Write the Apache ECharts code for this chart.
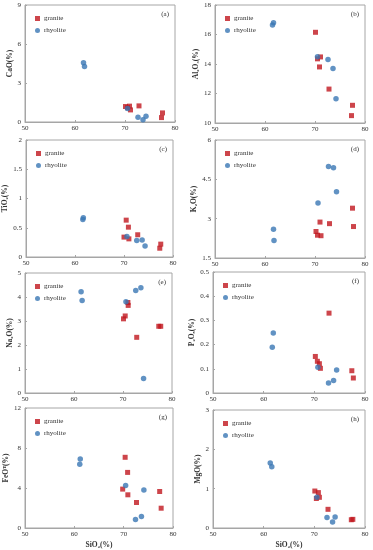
<!DOCTYPE html>
<html><head><meta charset="utf-8">
<script src="https://cdn.jsdelivr.net/npm/echarts@6/dist/echarts.min.js"></script>
<style>html,body{margin:0;padding:0;background:#fff}#c{width:373px;height:550px}</style>
</head><body><div id="c"></div>
<script>
// x ticks (SiO2 %)
const xTicks = [50, 60, 70, 80];
const panelLabels = ['(a)','(b)','(c)','(d)','(e)','(f)','(g)','(h)'];
const yNames = ['CaO(%)','Al₂O₃(%)','TiO₂(%)','K₂O(%)','Na₂O(%)','P₂O₅(%)','FeOᵀ(%)','MgO(%)'];
const yMin = [0, 10, 0, 1.5, 0, 0, 0, 0];
const yMax = [9, 18, 2, 6, 5, 0.5, 12, 3];
const yStep = [3, 2, 0.5, 1.5, 1, 0.1, 4, 1];

// granite [SiO2, oxide]
const graniteCaO   = [[70.1,1.19],[70.5,1.10],[70.9,1.22],[71.1,0.93],[72.8,1.24],[77.3,0.34],[77.5,0.70]];
const rhyoliteCaO  = [[61.7,4.56],[61.9,4.27],[70.5,1.04],[72.6,0.36],[73.6,0.18],[74.2,0.44]];
const graniteAl    = [[70.1,16.15],[70.5,14.35],[70.9,13.8],[71.1,14.48],[72.8,12.3],[77.3,10.5],[77.5,11.2]];
const rhyoliteAl   = [[61.7,16.8],[61.5,16.65],[70.5,14.5],[72.6,14.3],[73.6,13.7],[74.2,11.65]];
const graniteTi    = [[70.45,0.63],[70.9,0.51],[70.0,0.34],[71.0,0.31],[72.8,0.38],[77.3,0.15],[77.5,0.22]];
const rhyoliteTi   = [[61.6,0.64],[61.7,0.67],[70.6,0.35],[72.6,0.28],[73.7,0.29],[74.3,0.19]];
const graniteK     = [[70.2,2.51],[70.5,2.37],[71.0,2.87],[71.2,2.35],[72.9,2.81],[77.5,3.40],[77.7,2.70]];
const rhyoliteK    = [[61.7,2.60],[61.8,2.17],[70.6,3.60],[72.7,4.99],[73.7,4.94],[74.3,4.03]];
const graniteNa    = [[70.1,3.09],[70.45,3.21],[71.0,3.77],[71.06,3.65],[72.8,2.32],[77.3,2.78],[77.7,2.78]];
const rhyoliteNa   = [[61.45,4.22],[61.66,3.85],[70.6,3.80],[72.6,4.27],[73.65,4.39],[74.2,0.60]];
const graniteP     = [[70.2,0.151],[70.6,0.131],[71.0,0.121],[71.2,0.102],[72.9,0.330],[77.4,0.092],[77.7,0.062]];
const rhyoliteP    = [[61.9,0.248],[61.7,0.189],[70.7,0.106],[72.8,0.041],[73.8,0.052],[74.4,0.095]];
const graniteFe    = [[70.3,7.07],[70.8,5.56],[69.8,3.89],[70.85,3.32],[72.6,2.55],[77.3,3.65],[77.6,1.98]];
const rhyoliteFe   = [[61.2,6.90],[61.1,6.37],[70.4,4.26],[72.4,0.84],[73.6,1.14],[74.1,3.79]];
const graniteMg    = [[70.1,0.94],[70.4,0.75],[70.8,0.90],[71.0,0.78],[72.7,0.475],[77.3,0.21],[77.6,0.22]];
const rhyoliteMg   = [[61.3,1.65],[61.6,1.56],[70.5,0.78],[72.5,0.27],[73.6,0.15],[74.1,0.28]];

const graniteAll = [graniteCaO, graniteAl, graniteTi, graniteK, graniteNa, graniteP, graniteFe, graniteMg];
const rhyoliteAll = [rhyoliteCaO, rhyoliteAl, rhyoliteTi, rhyoliteK, rhyoliteNa, rhyoliteP, rhyoliteFe, rhyoliteMg];

// layout boxes [left, top, right, bottom] in px
const boxes = [
  [25,5,175,122],[215,5,365,123],
  [26,140,173,257],[215,140,365,258],
  [25,273,172,393],[213,272,365,393],
  [25,408,173,528],[213,410,365,530]
];
const RED = '#c0161e', BLUE = '#3a77b4', GRAY = '#a6a6a6', TXT = '#333';
const FONT = 'Liberation Serif';

const grids = [], xAxes = [], yAxes = [], series = [], legends = [], titles = [];
boxes.forEach((b, i) => {
  grids.push({left: b[0], top: b[1], width: b[2]-b[0], height: b[3]-b[1], show: true,
    borderColor: GRAY, borderWidth: 1, backgroundColor: 'transparent', containLabel: false});
  const bottomRow = i >= 6;
  xAxes.push({gridIndex: i, type: 'value', min: xTicks[0], max: xTicks[xTicks.length-1], interval: 10,
    axisLine: {show: true, lineStyle: {color: GRAY}},
    axisTick: {show: true, inside: true, length: 2, lineStyle: {color: GRAY}},
    splitLine: {show: false},
    axisLabel: {fontFamily: FONT, fontSize: 7, color: TXT, margin: 3},
    name: bottomRow ? 'SiO₂(%)' : '', nameLocation: 'middle', nameGap: 13,
    nameTextStyle: {fontFamily: FONT, fontSize: 7.5, fontWeight: 'bold', color: TXT}});
  yAxes.push({gridIndex: i, type: 'value', min: yMin[i], max: yMax[i], interval: yStep[i],
    axisLine: {show: true, lineStyle: {color: GRAY}},
    axisTick: {show: true, inside: true, length: 2, lineStyle: {color: GRAY}},
    splitLine: {show: false},
    axisLabel: {fontFamily: FONT, fontSize: 7, color: TXT, margin: 4},
    name: yNames[i], nameLocation: 'middle', nameGap: 11, nameRotate: 90,
    nameTextStyle: {fontFamily: FONT, fontSize: 7.5, fontWeight: 'bold', color: TXT}});
  series.push({name: 'granite', type: 'scatter', xAxisIndex: i, yAxisIndex: i, data: graniteAll[i],
    symbol: 'rect', symbolSize: 5, itemStyle: {color: RED}, z: 2});
  series.push({name: 'rhyolite', type: 'scatter', xAxisIndex: i, yAxisIndex: i, data: rhyoliteAll[i],
    symbol: 'circle', symbolSize: 5.5, itemStyle: {color: BLUE}, z: 3});
  legends.push({left: b[0] + 5, top: b[1] + 5, orient: 'vertical', itemGap: 5, itemWidth: 5, itemHeight: 5,
    selectedMode: false,
    data: [{name: 'granite', icon: 'rect'}, {name: 'rhyolite', icon: 'circle'}],
    textStyle: {fontFamily: FONT, fontSize: 7, color: TXT, padding: [0,0,0,-1]}});
  titles.push({text: panelLabels[i], right: 373 - b[2] + 6, top: b[1] + 6,
    textStyle: {fontFamily: FONT, fontSize: 7, fontWeight: 'normal', color: TXT}, padding: 0});
});

const chart = echarts.init(document.getElementById('c'), null, {renderer: 'canvas'});
chart.setOption({
  animation: false,
  title: titles,
  legend: legends,
  grid: grids,
  xAxis: xAxes,
  yAxis: yAxes,
  series: series
});
</script>
</body></html>
